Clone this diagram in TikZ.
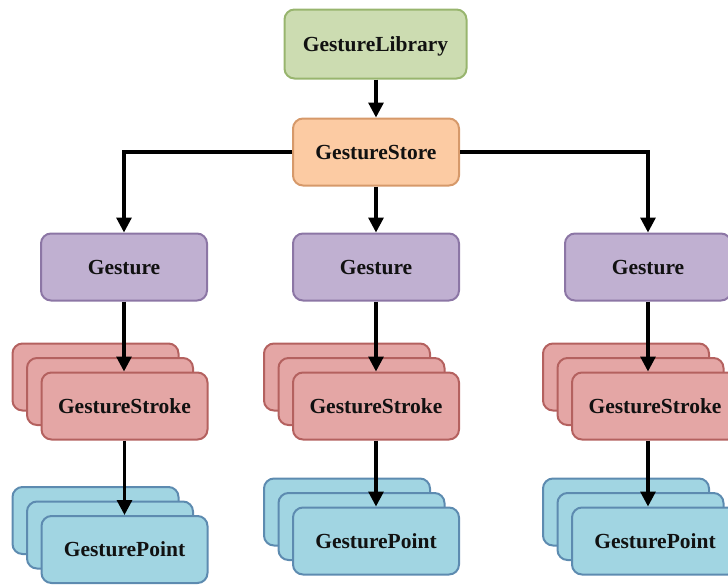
\documentclass[tikz,border=0pt]{standalone}
\usepackage{fontspec}
\setmainfont{Liberation Serif}
\usetikzlibrary{arrows.meta}

% fills and borders of the boxes
\definecolor{libfill}{HTML}{CCDCB1}\definecolor{libline}{HTML}{98B56E}
\definecolor{storefill}{HTML}{FCCBA3}\definecolor{storeline}{HTML}{D6996A}
\definecolor{gesfill}{HTML}{C0B0D1}\definecolor{gesline}{HTML}{8C76A5}
\definecolor{strokefill}{HTML}{E4A6A5}\definecolor{strokeline}{HTML}{B4615F}
\definecolor{ptfill}{HTML}{A1D5E2}\definecolor{ptline}{HTML}{5D8BB0}
\definecolor{txt}{HTML}{111111}

\tikzset{
  box/.style={rectangle, rounded corners=10pt, line width=2pt, inner sep=0pt,
    minimum width=166pt, minimum height=67pt, text=txt,
    font=\fontsize{21.5}{25}\selectfont\bfseries, text height=14pt, text depth=0pt},
  libbox/.style={box, draw=libline, fill=libfill, minimum width=182pt, minimum height=69pt},
  storebox/.style={box, draw=storeline, fill=storefill},
  gesbox/.style={box, draw=gesline, fill=gesfill},
  strokebox/.style={box, draw=strokeline, fill=strokefill},
  ptbox/.style={box, draw=ptline, fill=ptfill},
  link/.style={line width=3.2pt, -{Triangle[width=15pt,length=15pt]}},
}

\begin{document}
\begin{tikzpicture}[x=1pt,y=-1pt]
  \useasboundingbox (0,0) rectangle (728,584);

  \node[libbox]   (lib)   at (375.5,44) {GestureLibrary};
  \node[storebox] (store) at (376,152)  {GestureStore};

  \node[gesbox] (g1) at (124,267) {Gesture};
  \node[gesbox] (g2) at (376,267) {Gesture};
  \node[gesbox] (g3) at (648,267) {Gesture};

  % stacked strokes: two boxes behind each front box
  \foreach \i/\cx in {1/124.5, 2/376, 3/655} {
    \node[strokebox] (s\i c) at (\cx-29,377) {};
    \node[strokebox] (s\i b) at (\cx-14.5,391.5) {};
    \node[strokebox] (s\i)   at (\cx,406) {GestureStroke};
  }

  % stacked points
  \foreach \i/\cx/\cy in {1/124.5/549.5, 2/376/541, 3/655/541} {
    \node[ptbox] (p\i c) at (\cx-29,\cy-29) {};
    \node[ptbox] (p\i b) at (\cx-14.5,\cy-14.5) {};
    \node[ptbox] (p\i)   at (\cx,\cy) {GesturePoint};
  }

  \draw[link] (store.north |- lib.south) -- (store.north);
  \draw[link] (store.west) -| (g1.north);
  \draw[link] (store.south) -- (g2.north);
  \draw[link] (store.east) -| (g3.north);

  \foreach \i in {1,2,3} {
    \draw[link] (g\i.south) -- (g\i.south |- s\i.north);
  }
  \draw[link] (s1.south) -- (s1.south |- p1.north);
  \draw[link] (s2.south) -- (s2.south |- p2.north);
  \draw[link] (g3.south |- s3.south) -- (g3.south |- p3.north);
\end{tikzpicture}
\end{document}
